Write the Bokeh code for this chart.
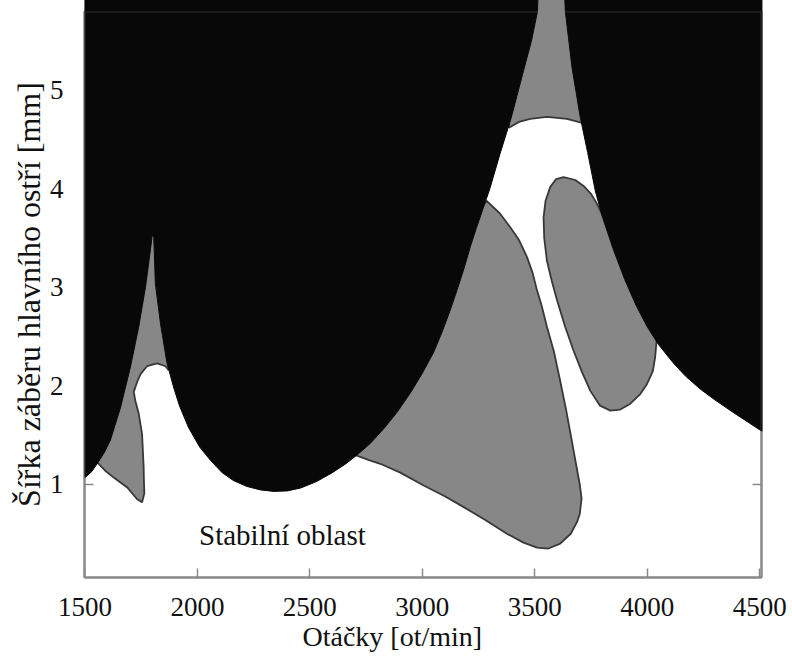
from bokeh.plotting import figure
from bokeh.models import Label, LinearAxis, FixedTicker, Title, BoxAnnotation
from bokeh.embed import file_html
from bokeh.resources import INLINE

# ---- data (spindle speed [ot/min], depth of cut [mm]) ----
x_ticks = [1500, 2000, 2500, 3000, 3500, 4000, 4500]
y_ticks = [1, 2, 3, 4, 5]

# black (unstable) lobes
lobe_left_x = [1500, 1500, 1530, 1554, 1585, 1613, 1658, 1702, 1739, 1769, 1791, 1799,
               1806, 1813, 1836, 1865, 1895, 1920, 1960, 2010, 2060, 2110, 2160, 2220,
               2280, 2340, 2400, 2460, 2530, 2600, 2660, 2710, 2770, 2830, 2890, 2950,
               3000, 3050, 3090, 3124, 3154, 3185, 3213, 3240, 3270, 3300, 3346, 3395,
               3450, 3485, 3512, 3515]
lobe_left_y = [6.0, 1.07, 1.13, 1.21, 1.32, 1.45, 1.78, 2.19, 2.60, 3.00, 3.38, 3.53,
               3.51, 3.04, 2.63, 2.23, 1.98, 1.80, 1.58, 1.38, 1.24, 1.12, 1.04, 0.98,
               0.945, 0.93, 0.935, 0.965, 1.03, 1.12, 1.21, 1.30, 1.42, 1.57, 1.74, 1.94,
               2.13, 2.34, 2.56, 2.77, 2.97, 3.19, 3.41, 3.60, 3.80, 4.00, 4.36, 4.72,
               5.20, 5.50, 5.80, 6.0]

lobe_right_x = [3632, 3636, 3665, 3702, 3735, 3769, 3800, 3850, 3900, 3950, 4000, 4050,
                4117, 4170, 4235, 4300, 4383, 4450, 4510, 4510]
lobe_right_y = [6.0, 5.80, 5.24, 4.73, 4.37, 3.98, 3.72, 3.38, 3.08, 2.82, 2.60, 2.42,
                2.23, 2.10, 1.97, 1.86, 1.73, 1.63, 1.54, 6.0]

# grey regions
grey1_x = [1540, 1561, 1590, 1628, 1688, 1732, 1754, 1764, 1762, 1761, 1754, 1739, 1724,
           1717, 1732, 1747, 1776, 1821, 1858, 1872, 1885, 1815, 1650]
grey1_y = [1.25, 1.21, 1.14, 1.07, 0.97, 0.85, 0.82, 0.91, 1.05, 1.18, 1.51, 1.72, 1.85,
           1.94, 2.04, 2.12, 2.20, 2.23, 2.20, 2.16, 2.70, 3.80, 2.00]

grey2_x = [3385, 3430, 3480, 3554, 3643, 3710, 3800, 3380]
grey2_y = [4.62, 4.68, 4.71, 4.73, 4.71, 4.67, 6.0, 6.0]

grey3_x = [2700, 2760, 2813, 2902, 3006, 3100, 3184, 3280, 3376, 3450, 3510, 3560, 3613,
           3660, 3688, 3700, 3708, 3700, 3680, 3660, 3640, 3613, 3585, 3554, 3530, 3510,
           3490, 3465, 3430, 3391, 3345, 3285, 3200, 2750]
grey3_y = [1.30, 1.25, 1.21, 1.12, 0.99, 0.88, 0.77, 0.64, 0.50, 0.41, 0.36, 0.35, 0.40,
           0.50, 0.62, 0.70, 0.86, 1.00, 1.25, 1.50, 1.75, 2.05, 2.35, 2.60, 2.82, 2.97,
           3.15, 3.31, 3.48, 3.61, 3.75, 3.88, 3.60, 1.60]

grey4_x = [3628, 3595, 3569, 3548, 3539, 3542, 3554, 3575, 3599, 3635, 3672, 3710, 3747,
           3790, 3836, 3880, 3925, 3970, 3999, 4025, 4035, 4045, 3950, 3830, 3776, 3750,
           3717, 3680]
grey4_y = [4.12, 4.10, 4.02, 3.88, 3.71, 3.50, 3.27, 3.07, 2.87, 2.60, 2.36, 2.14, 1.95,
           1.80, 1.75, 1.76, 1.82, 1.92, 2.02, 2.15, 2.29, 2.55, 3.00, 3.60, 3.85, 3.95,
           4.03, 4.09]

stable_text = "Stabilní oblast"
stable_pos = (2378, 0.49)
x_title = "Otáčky [ot/min]"
y_title = "Šířka záběru hlavního ostří [mm]"

FONT = "Liberation Serif"
GREY = "#878787"
EDGE = "#383838"
BLACK = "#080808"
FRAME = "#8a8a8a"
TXT = "#111111"

p = figure(width=792, height=657, x_range=(1498, 4508), y_range=(0.056, 5.80),
           output_backend="svg", toolbar_location=None,
           min_border_left=84, min_border_right=31, min_border_top=11, min_border_bottom=80)
p.background_fill_color = "white"
p.border_fill_color = "white"
p.grid.visible = False
p.outline_line_color = FRAME
p.outline_line_width = 2

for gx, gy in [(grey1_x, grey1_y), (grey2_x, grey2_y), (grey3_x, grey3_y), (grey4_x, grey4_y)]:
    p.patch(gx, gy, fill_color=GREY, line_color=EDGE, line_width=1.8, level="overlay")

for bx, by in [(lobe_left_x, lobe_left_y), (lobe_right_x, lobe_right_y)]:
    p.patch(bx, by, fill_color=BLACK, line_color=BLACK, line_width=1, level="overlay")

# frame box drawn above the filled regions
p.add_layout(BoxAnnotation(fill_alpha=0, fill_color=None, line_color=FRAME, line_width=2,
                           level="overlay"))

# axes
p.xaxis.ticker = FixedTicker(ticks=x_ticks)
p.yaxis.ticker = FixedTicker(ticks=y_ticks)
for ax in [p.xaxis[0], p.yaxis[0]]:
    ax.axis_line_color = FRAME
    ax.axis_line_width = 2
    ax.major_tick_in = 9
    ax.major_tick_out = 0
    ax.minor_tick_line_color = None
    ax.major_tick_line_color = FRAME
    ax.major_tick_line_width = 1.5
    ax.major_label_text_font = FONT
    ax.major_label_text_font_size = "27px"
    ax.major_label_text_color = TXT
p.xaxis.major_label_standoff = 20
p.yaxis.major_label_standoff = 21
p.yaxis.axis_label = y_title
p.yaxis.axis_label_text_font = FONT
p.yaxis.axis_label_text_font_size = "32px"
p.yaxis.axis_label_text_font_style = "normal"
p.yaxis.axis_label_text_color = TXT
p.yaxis.axis_label_standoff = 0

rax = LinearAxis(ticker=FixedTicker(ticks=y_ticks))
rax.axis_line_color = FRAME
rax.axis_line_width = 2
rax.major_tick_in = 9
rax.major_tick_out = 0
rax.minor_tick_line_color = None
rax.major_tick_line_color = FRAME
rax.major_tick_line_width = 1.5
rax.major_label_text_color = None
rax.major_label_standoff = 0
p.add_layout(rax, "right")

p.add_layout(Title(text=x_title, align="left", offset=218, text_font=FONT,
                   text_font_size="28px", text_font_style="normal", text_color=TXT,
                   standoff=0), "below")

p.add_layout(Label(x=stable_pos[0], y=stable_pos[1], text=stable_text, text_align="center",
                   text_baseline="alphabetic", text_font=FONT, text_font_size="29px",
                   text_color=TXT))

open("out.html", "w").write(file_html(p, INLINE))
